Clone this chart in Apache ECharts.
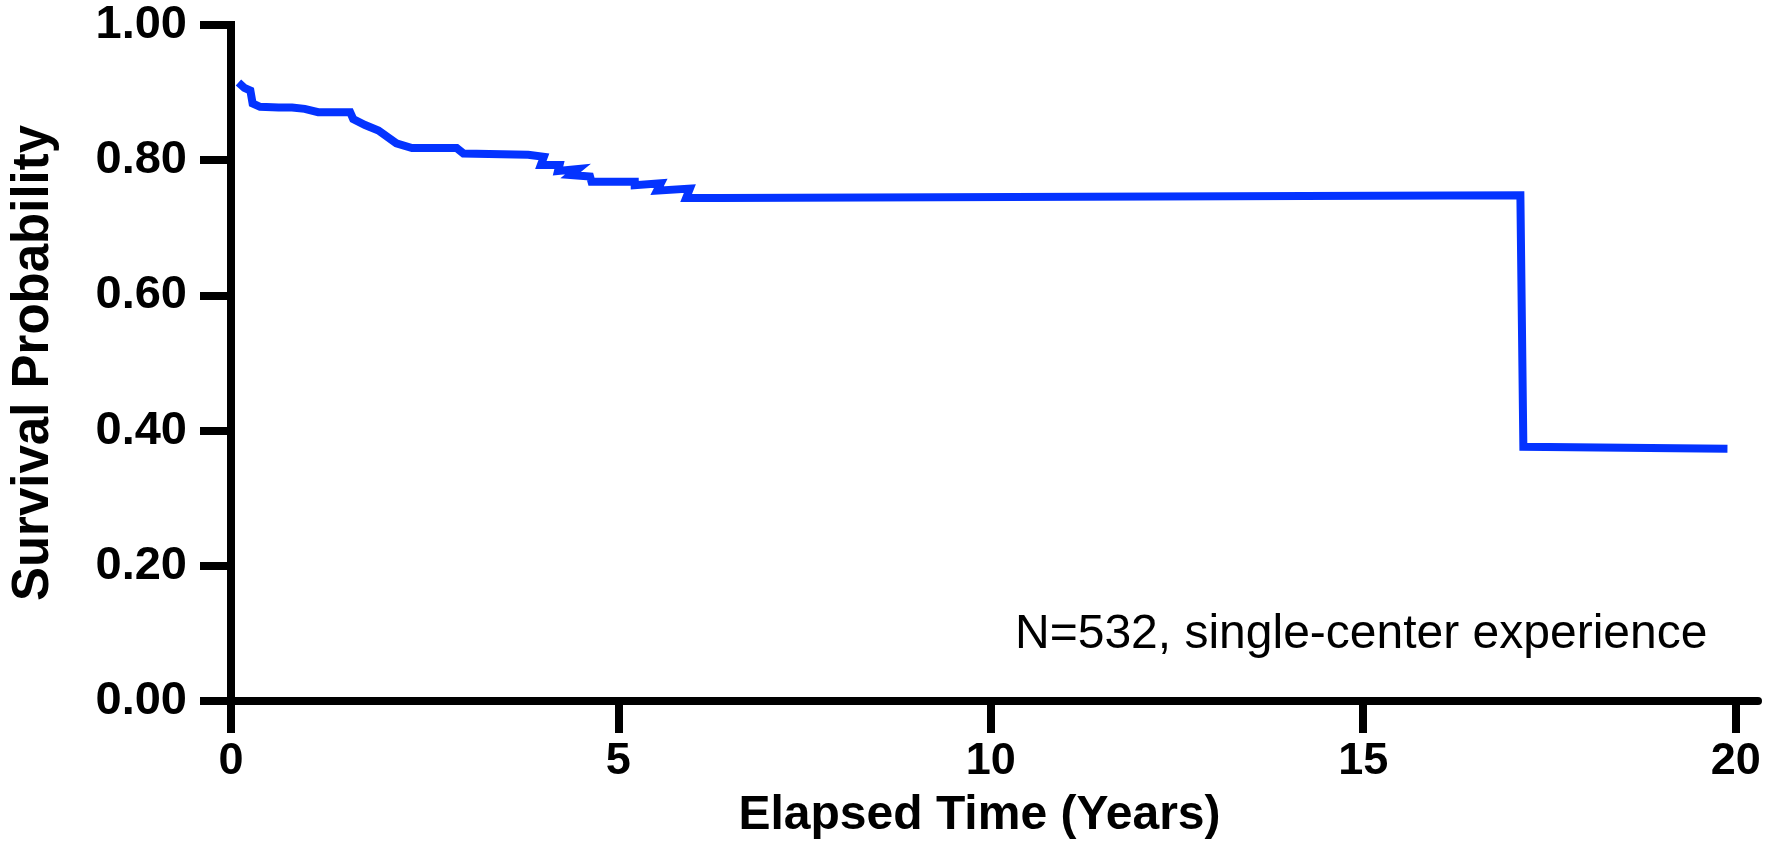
<!DOCTYPE html>
<html>
<head>
<meta charset="utf-8">
<script src="https://cdn.jsdelivr.net/npm/echarts@6/dist/echarts.min.js"></script>
<style>
html,body{margin:0;padding:0;background:#fff;}
#chart{width:1775px;height:845px;}
</style>
</head>
<body>
<div id="chart"></div>
<script>
// Kaplan-Meier curve
const timeYears = [-0.10, -0.02, 0.06, 0.09, 0.19, 0.44, 0.62, 0.79, 0.97, 1.40, 1.44, 1.60, 1.78, 2.02, 2.23, 2.83, 2.92, 3.79, 4.00, 3.96, 4.21, 4.19, 4.46, 4.36, 4.62, 4.64, 5.22, 5.22, 5.57, 5.52, 5.96, 5.91, 6.38, 17.11, 17.15, 19.89];
const survival  = [0.915, 0.907, 0.903, 0.884, 0.879, 0.878, 0.878, 0.876, 0.871, 0.871, 0.861, 0.852, 0.844, 0.825, 0.818, 0.818, 0.810, 0.808, 0.805, 0.793, 0.793, 0.784, 0.787, 0.778, 0.776, 0.768, 0.768, 0.763, 0.766, 0.755, 0.758, 0.744, 0.744, 0.748, 0.376, 0.373];
const xTickValues = [-0.2, 5, 10, 15, 20];
const xTickLabels = ['0', '5', '10', '15', '20'];
const annotationText = 'N=532, single-center experience';
const xTitle = 'Elapsed Time (Years)';
const yTitle = 'Survival Probability';

const FONT = "'Liberation Sans', Arial, Helvetica, sans-serif";
const chart = echarts.init(document.getElementById('chart'), null, {renderer: 'canvas'});
const option = {
  animation: false,
  backgroundColor: '#ffffff',
  grid: {left: 229, right: 17, top: 25, bottom: 144, containLabel: false},
  xAxis: {
    type: 'value',
    min: -0.2,
    max: 20.3,
    splitLine: {show: false},
    axisLine: {show: true, onZero: false, lineStyle: {color: '#000', width: 8}},
    axisTick: {show: true, length: 32, lineStyle: {color: '#000', width: 8}, customValues: xTickValues},
    axisLabel: {
      color: '#000', fontFamily: FONT, fontWeight: 'bold', fontSize: 45, margin: 38,
      customValues: xTickValues,
      formatter: function (v) { const i = xTickValues.indexOf(v); return i >= 0 ? xTickLabels[i] : ''; }
    },
    name: xTitle,
    nameLocation: 'middle',
    nameGap: 91,
    nameTextStyle: {color: '#000', fontFamily: FONT, fontWeight: 'bold', fontSize: 48, padding: [0, 30, 0, 0]}
  },
  yAxis: {
    type: 'value',
    min: 0,
    max: 1,
    interval: 0.2,
    splitLine: {show: false},
    axisLine: {show: true, onZero: false, lineStyle: {color: '#000', width: 8, cap: 'square'}},
    axisTick: {show: true, length: 31, lineStyle: {color: '#000', width: 8}},
    axisLabel: {
      color: '#000', fontFamily: FONT, fontWeight: 'bold', fontSize: 47, margin: 44,
      formatter: function (v) { return v.toFixed(2); }
    },
    name: yTitle,
    nameLocation: 'middle',
    nameGap: 172,
    nameTextStyle: {color: '#000', fontFamily: FONT, fontWeight: 'bold', fontSize: 51}
  },
  series: [{
    type: 'line',
    data: timeYears.map((t, i) => [t, survival[i]]),
    showSymbol: false,
    symbol: 'none',
    lineStyle: {color: '#0433ff', width: 8, join: 'miter'},
    itemStyle: {color: '#0433ff'},
    clip: false
  }],
  graphic: [{
    type: 'text',
    left: 1015,
    top: 611,
    style: {text: annotationText, fill: '#000', font: "48px 'Liberation Sans', Arial, sans-serif"}
  }]
};
chart.setOption(option);
</script>
</body>
</html>
